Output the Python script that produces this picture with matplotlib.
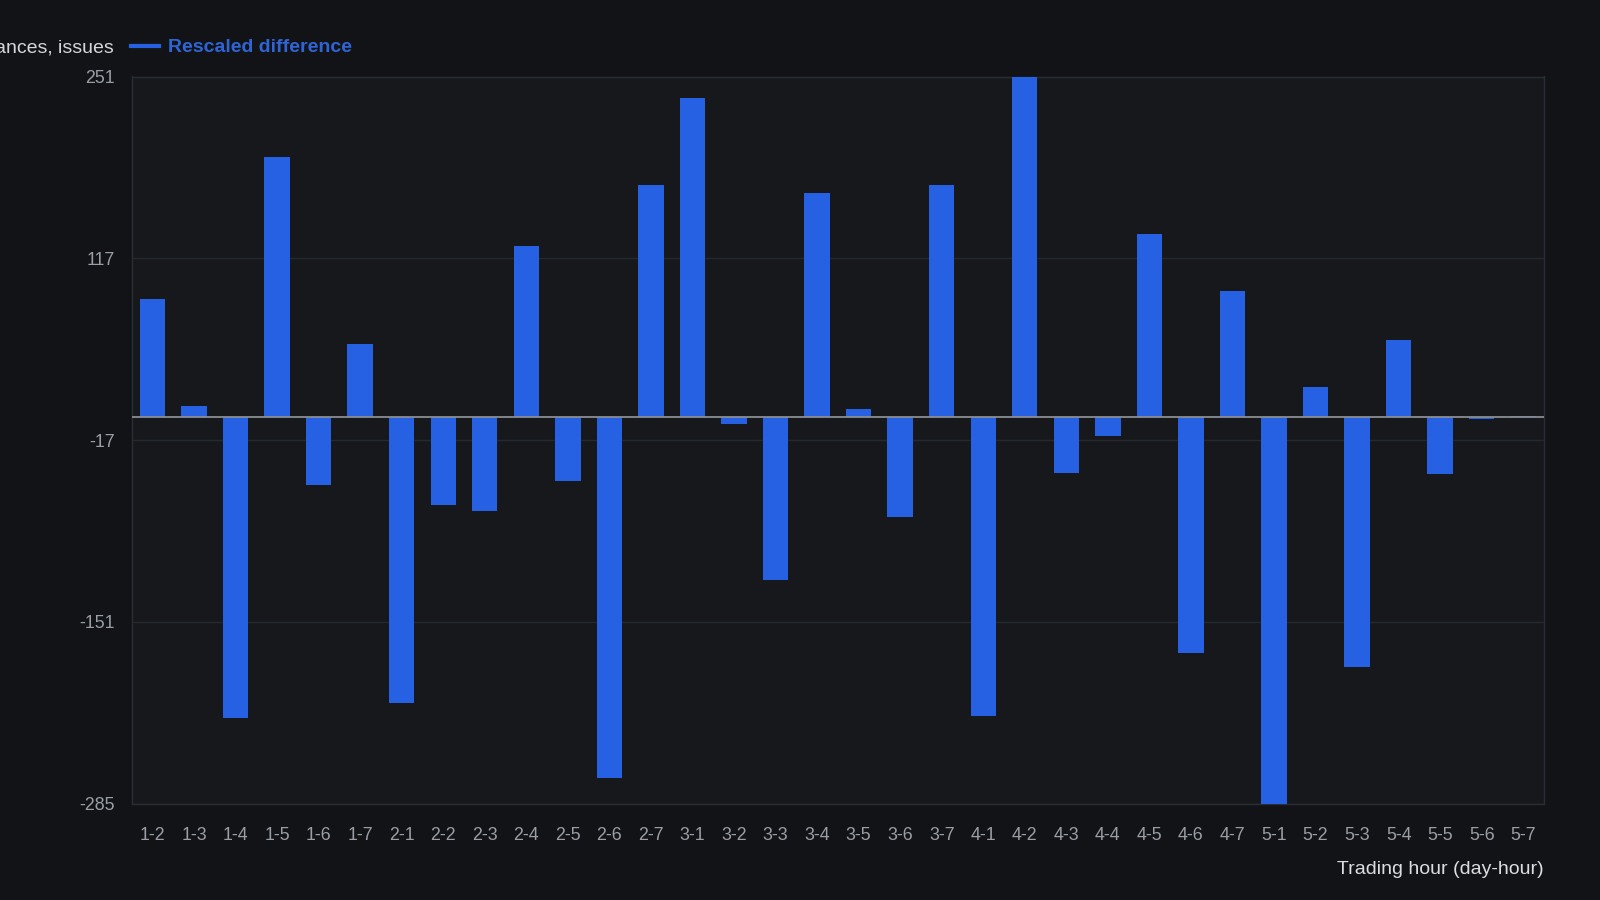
import matplotlib.pyplot as plt
from matplotlib.lines import Line2D

# categories: day-hour
labels = ['1-2', '1-3', '1-4', '1-5', '1-6', '1-7',
          '2-1', '2-2', '2-3', '2-4', '2-5', '2-6', '2-7',
          '3-1', '3-2', '3-3', '3-4', '3-5', '3-6', '3-7',
          '4-1', '4-2', '4-3', '4-4', '4-5', '4-6', '4-7',
          '5-1', '5-2', '5-3', '5-4', '5-5', '5-6', '5-7']
values = [87, 8, -222, 192, -50, 54,
          -211, -65, -69, 126, -47, -266, 171,
          235, -5, -120, 165, 6, -74, 171,
          -220, 251, -41, -14, 135, -174, 93,
          -285, 22, -184, 57, -42, -1.5, 1]
yticks = [251, 117, -17, -151, -285]

BG = '#111317'
AX_BG = '#16181c'
BLUE = '#2661e3'
GRAY = '#9a9ea5'

plt.rcParams['font.family'] = ['Liberation Sans', 'DejaVu Sans']

fig = plt.figure(figsize=(16, 9), dpi=100, facecolor=BG)
ax = fig.add_axes([0.0823, 0.107, 0.8827, 0.808])
ax.set_facecolor(AX_BG)

x = range(len(labels))
ax.bar(x, values, width=0.61, color=BLUE, zorder=3)
ax.axhline(0, color='#8a8d92', lw=1.3, zorder=4)

ax.set_xlim(-0.5, len(labels) - 0.5)
ax.set_ylim(-285, 251)
ax.set_yticks(yticks)
ax.set_yticklabels([str(t) for t in yticks])
ax.set_xticks(list(x))
ax.set_xticklabels(labels)
ax.grid(axis='y', color='#25282d', lw=1, zorder=0)
ax.tick_params(axis='both', length=0, colors=GRAY, labelsize=12.8)
ax.tick_params(axis='x', pad=17)
ax.tick_params(axis='y', pad=12)
for s in ax.spines.values():
    s.set_color('#2a2d32')
    s.set_linewidth(1)

# legend row at the top
fig.text(0.0708, 0.947, 'ances, issues', color='#d6d7d9', fontsize=14,
         ha='right', va='center')
fig.add_artist(Line2D([0.0816, 0.0995], [0.949, 0.949], color=BLUE, lw=3,
                      transform=fig.transFigure))
fig.text(0.105, 0.947, 'Rescaled difference', color='#2f64d6', fontsize=14,
         fontweight='bold', ha='left', va='center')

fig.text(0.965, 0.034, 'Trading hour (day-hour)', color='#dcdde0',
         fontsize=14, ha='right', va='center')

fig.savefig('out.png', dpi=100, facecolor=BG)
